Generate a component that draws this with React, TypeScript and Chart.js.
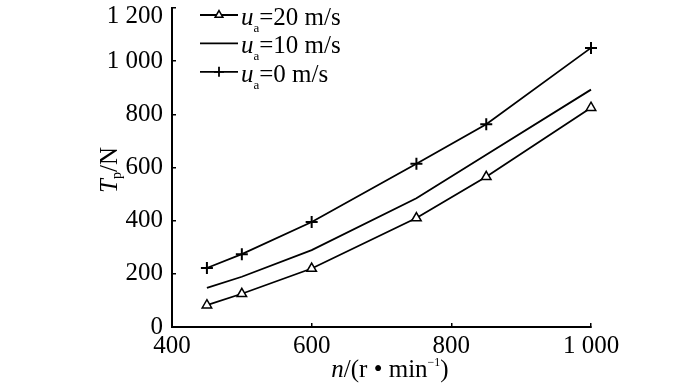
import { useEffect, useRef } from 'react';
import { Chart, registerables } from 'chart.js';

Chart.register(...registerables);

// ---- data ----
const speeds = [450, 500, 600, 750, 850, 1000];
const thrustUa20 = [82, 125, 220, 410, 565, 825];
const thrustUa10 = [147, 189, 289, 484, 648, 893];
const thrustUa0 = [222, 274, 395, 614, 763, 1050];

const xTickValues = [400, 600, 800, 1000];
const xTickLabels = ['400', '600', '800', '1 000'];
const yTickValues = [0, 200, 400, 600, 800, 1000, 1200];
const yTickLabels = ['0', '200', '400', '600', '800', '1 000', '1 200'];

const legendSpeeds = ['20', '10', '0'];
const seriesLabels = ['ua=20 m/s', 'ua=10 m/s', 'ua=0 m/s'];

const SERIF = "'Liberation Serif', 'Times New Roman', 'DejaVu Serif', serif";

type Run = { text: string; size: number; italic?: boolean; dy?: number };

function runsWidth(ctx: CanvasRenderingContext2D, runs: Run[]) {
  let w = 0;
  for (const r of runs) {
    ctx.font = `${r.italic ? 'italic ' : ''}${r.size}px ${SERIF}`;
    w += ctx.measureText(r.text).width;
  }
  return w;
}

function drawRuns(ctx: CanvasRenderingContext2D, runs: Run[], x: number, y: number) {
  let cx = x;
  for (const r of runs) {
    ctx.font = `${r.italic ? 'italic ' : ''}${r.size}px ${SERIF}`;
    ctx.fillText(r.text, cx, y + (r.dy || 0));
    cx += ctx.measureText(r.text).width;
  }
}

function drawMarker(ctx: CanvasRenderingContext2D, style: string, x: number, y: number, r: number) {
  ctx.beginPath();
  if (style === 'triangle') {
    for (let k = 0; k < 3; k++) {
      const a = (k * 2 * Math.PI) / 3;
      const px = x + Math.sin(a) * r;
      const py = y - Math.cos(a) * r;
      if (k === 0) ctx.moveTo(px, py);
      else ctx.lineTo(px, py);
    }
    ctx.closePath();
    ctx.fillStyle = '#fff';
    ctx.fill();
    ctx.stroke();
  } else if (style === 'cross') {
    ctx.moveTo(x - r, y);
    ctx.lineTo(x + r, y);
    ctx.moveTo(x, y - r);
    ctx.lineTo(x, y + r);
    ctx.stroke();
  }
}

const textPlugin = {
  id: 'richText',
  afterDraw(chart: any) {
    const ctx: CanvasRenderingContext2D = chart.ctx;
    ctx.save();
    ctx.fillStyle = '#000';
    ctx.strokeStyle = '#000';
    ctx.textBaseline = 'alphabetic';
    ctx.textAlign = 'left';

    // legend
    chart.data.datasets.forEach((ds: any, i: number) => {
      const lineY = 15 + i * 28.4;
      ctx.lineWidth = 1.8;
      ctx.beginPath();
      ctx.moveTo(200, lineY);
      ctx.lineTo(238, lineY);
      ctx.stroke();
      if (ds.pointStyle && ds.pointRadius > 0) {
        ctx.lineWidth = ds.pointStyle === 'cross' ? 1.8 : 1.5;
        drawMarker(ctx, ds.pointStyle, 219, lineY, ds.pointStyle === 'cross' ? 5 : 4.5);
      }
      ctx.fillStyle = '#000';
      drawRuns(
        ctx,
        [
          { text: 'u', size: 25, italic: true },
          { text: 'a', size: 13, dy: 7 },
          { text: '=' + legendSpeeds[i] + ' m/s', size: 25 },
        ],
        241,
        lineY + 10
      );
    });

    // y axis title
    const yRuns: Run[] = [
      { text: 'T', size: 25, italic: true },
      { text: 'p', size: 14, dy: 4 },
      { text: '/N', size: 25 },
    ];
    const yw = runsWidth(ctx, yRuns);
    ctx.save();
    ctx.translate(117, 170);
    ctx.rotate(-Math.PI / 2);
    drawRuns(ctx, yRuns, -yw / 2, 0);
    ctx.restore();

    // x axis title
    const xRuns: Run[] = [
      { text: 'n', size: 25, italic: true },
      { text: '/(r \u2022 min', size: 25 },
      { text: '\u22121', size: 12, dy: -11 },
      { text: ')', size: 25 },
    ];
    const xw = runsWidth(ctx, xRuns);
    drawRuns(ctx, xRuns, 390 - xw / 2, 377);

    ctx.restore();
  },
};

export default function App() {
  const canvasRef = useRef<HTMLCanvasElement | null>(null);

  useEffect(() => {
    if (!canvasRef.current) return;
    const mk = (values: number[]) => speeds.map((x, i) => ({ x, y: values[i] }));
    const chart = new Chart(canvasRef.current, {
      type: 'line',
      data: {
        datasets: [
          {
            label: seriesLabels[0],
            data: mk(thrustUa20),
            borderColor: '#000',
            borderWidth: 1.8,
            pointStyle: 'triangle',
            pointRadius: 5.5,
            pointBorderWidth: 1.5,
            pointBackgroundColor: '#fff',
            pointBorderColor: '#000',
            tension: 0,
            clip: false,
          },
          {
            label: seriesLabels[1],
            data: mk(thrustUa10),
            borderColor: '#000',
            borderWidth: 1.8,
            pointRadius: 0,
            tension: 0,
            clip: false,
          },
          {
            label: seriesLabels[2],
            data: mk(thrustUa0),
            borderColor: '#000',
            borderWidth: 1.8,
            pointStyle: 'cross',
            pointRadius: 6,
            pointBorderWidth: 2,
            pointBorderColor: '#000',
            tension: 0,
            clip: false,
          },
        ] as any,
      },
      options: {
        animation: false,
        responsive: false,
        devicePixelRatio: 1,
        layout: { padding: { left: 0, top: 4, right: 109, bottom: 0 } },
        plugins: {
          legend: { display: false },
          tooltip: { enabled: false },
          title: { display: false },
        },
        scales: {
          x: {
            type: 'linear',
            min: 400,
            max: 1000,
            afterBuildTicks: (scale: any) => {
              scale.ticks = xTickValues.map((v) => ({ value: v }));
            },
            afterFit: (scale: any) => {
              scale.height = 58;
            },
            ticks: {
              color: '#000',
              padding: 8,
              maxRotation: 0,
              autoSkip: false,
              font: { family: SERIF, size: 25 },
              callback: (_v: any, i: number) => xTickLabels[i],
            },
            grid: {
              drawOnChartArea: false,
              drawTicks: true,
              tickLength: -4,
              color: '#000',
              lineWidth: 1.5,
            },
            border: { color: '#000', width: 2 },
          },
          y: {
            type: 'linear',
            min: 0,
            max: 1200,
            afterBuildTicks: (scale: any) => {
              scale.ticks = yTickValues.map((v) => ({ value: v }));
            },
            afterFit: (scale: any) => {
              scale.width = 172;
              scale.paddingTop = 0;
              scale.paddingBottom = 0;
            },
            ticks: {
              color: '#000',
              padding: 13,
              autoSkip: false,
              font: { family: SERIF, size: 25, lineHeight: 0.7 },
              callback: (_v: any, i: number) =>
                i === yTickLabels.length - 1 ? ['', yTickLabels[i]] : yTickLabels[i],
            },
            grid: {
              drawOnChartArea: false,
              drawTicks: true,
              tickLength: -4,
              color: '#000',
              lineWidth: 1.5,
            },
            border: { color: '#000', width: 2 },
          },
        },
      } as any,
      plugins: [textPlugin],
    });
    return () => chart.destroy();
  }, []);

  return (
    <div style={{ position: 'absolute', left: 0, top: 0, width: 700, height: 385, background: '#fff' }}>
      <canvas ref={canvasRef} width={700} height={385} style={{ display: 'block' }} />
    </div>
  );
}
